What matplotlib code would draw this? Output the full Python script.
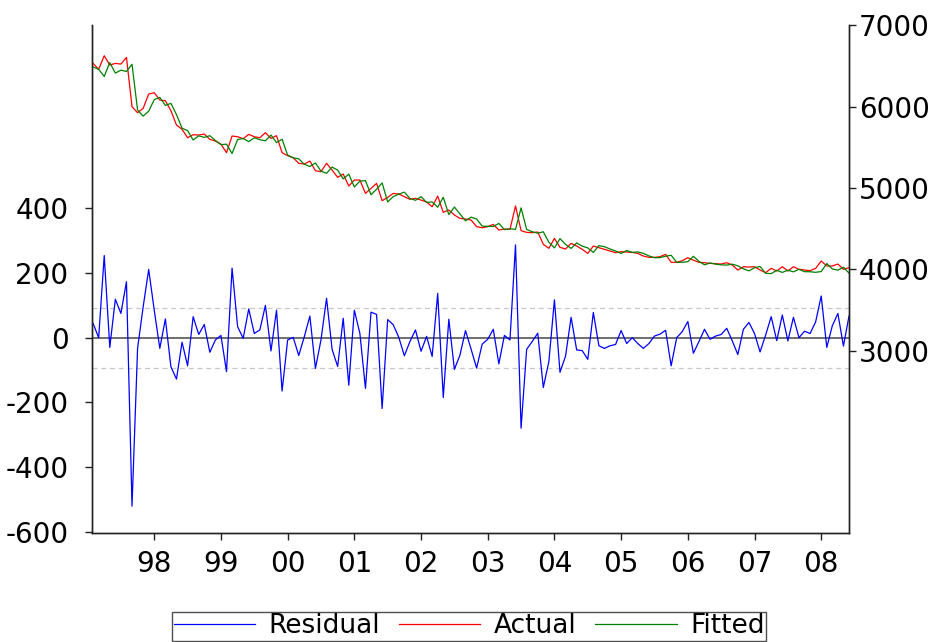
import matplotlib
matplotlib.use("Agg")
import matplotlib.pyplot as plt
import numpy as np
from matplotlib.lines import Line2D

plt.rcParams['font.family'] = ['DejaVu Sans']

# Monthly observations (Feb 1997 .. Jun 2008)
residual = [44, 0, 254, -30, 119, 75, 173, -521, -33, 95, 211, 85, -33, 58, -90, -128,
            -14, -87, 65, 10, 41, -45, -7, 7, -105, 215, 34, -2, 89, 13, 24, 100,
            -41, 85, -165, -7, 1, -55, 3, 67, -95, -7, 122, -36, -89, 60, -147, 85,
            13, -157, 79, 72, -219, 56, 40, 1, -56, -12, 24, -42, 4, -58, 137, -185,
            57, -98, -54, 22, -35, -94, -20, -5, 26, -81, 7, -7, 287, -280, -36, -12,
            14, -154, -74, 117, -107, -57, 63, -38, -40, -67, 78, -25, -33, -25, -21, 22,
            -18, 0, -18, -33, -18, 5, 11, 23, -87, 0, 19, 50, -48, -12, 26, -5,
            5, 10, 29, -10, -52, 26, 47, 13, -44, 8, 65, -9, 70, -10, 63, 0,
            20, 13, 49, 129, -30, 37, 75, -26, 67]

actual = [6530, 6457, 6624, 6510, 6530, 6522, 6604, 5998, 5924, 5977, 6154, 6170, 6080, 6072, 5949, 5773,
          5720, 5617, 5654, 5650, 5662, 5597, 5576, 5539, 5433, 5638, 5629, 5605, 5658, 5629, 5617, 5679,
          5609, 5642, 5433, 5396, 5371, 5302, 5294, 5330, 5212, 5199, 5302, 5220, 5130, 5171, 5023, 5097,
          5097, 4933, 4995, 5056, 4843, 4884, 4933, 4925, 4892, 4860, 4872, 4851, 4827, 4769, 4900, 4700,
          4729, 4667, 4626, 4618, 4606, 4524, 4511, 4524, 4552, 4483, 4495, 4491, 4778, 4475, 4454, 4450,
          4458, 4307, 4258, 4380, 4270, 4249, 4319, 4286, 4245, 4196, 4286, 4266, 4245, 4225, 4204, 4217,
          4213, 4208, 4196, 4163, 4147, 4147, 4155, 4184, 4086, 4086, 4106, 4143, 4112, 4086, 4081, 4073,
          4069, 4065, 4081, 4053, 3991, 4032, 4028, 4032, 3991, 3959, 4012, 3979, 4032, 3979, 4032, 4000,
          3991, 3983, 4012, 4102, 4041, 4041, 4065, 4000, 4020]

fitted = [a - r for a, r in zip(actual, residual)]

year_labels = ['98', '99', '00', '01', '02', '03', '04', '05', '06', '07', '08']
left_ticks = [-600, -400, -200, 0, 200, 400]
right_ticks = [3000, 4000, 5000, 6000, 7000]
se_band = 93

x = np.arange(len(residual))

fig = plt.figure(figsize=(9.38, 6.42), dpi=100)
ax = fig.add_axes([92/938, 1 - 533/642, (849 - 92)/938, (533 - 25)/642])
ax2 = ax.twinx()

ax.axhline(0, color='#555555', lw=1.2, zorder=1)
ax.axhline(se_band, color='#c8c8c8', lw=0.9, ls=(0, (4, 3)), zorder=1)
ax.axhline(-se_band, color='#c8c8c8', lw=0.9, ls=(0, (4, 3)), zorder=1)
ax.plot(x, residual, color='#0000ff', lw=0.9, zorder=2)

ax2.plot(x, actual, color='#ff0000', lw=0.9)
ax2.plot(x, fitted, color='#008000', lw=0.9)

ax.set_xlim(-0.2, 136.0)
ax.set_ylim(-604, 967)
ax2.set_ylim(760, 7002)

ax.set_xticks([11 + 12 * k for k in range(len(year_labels))])
ax.set_xticklabels(year_labels)
ax.set_yticks(left_ticks)
ax.set_yticklabels([str(v) for v in left_ticks])
ax2.set_yticks(right_ticks)
ax2.set_yticklabels([str(v) for v in right_ticks])

for a in (ax, ax2):
    a.spines['top'].set_visible(False)
    for s in ('left', 'right', 'bottom'):
        a.spines[s].set_linewidth(1.0)
        a.spines[s].set_color('#222222')
    a.tick_params(direction='out', length=5, width=1.0, color='#222222',
                  labelsize=20)
ax.tick_params(axis='x', pad=7)
ax.tick_params(axis='y', pad=12)
ax2.tick_params(axis='y', pad=2)

handles = [Line2D([], [], color='#0000ff', lw=0.9),
           Line2D([], [], color='#ff0000', lw=0.9),
           Line2D([], [], color='#008000', lw=0.9)]
leg = fig.legend(handles, ['Residual', 'Actual', 'Fitted'], loc='upper center',
                 bbox_to_anchor=(469/938, 1 - 612/642), ncol=3, frameon=True,
                 fancybox=False, edgecolor='#222222', fontsize=19,
                 handlelength=3.1, columnspacing=0.7, borderpad=0.05,
                 handletextpad=0.5, borderaxespad=0)
leg.get_frame().set_linewidth(1.0)

fig.savefig('out.png', dpi=100)
